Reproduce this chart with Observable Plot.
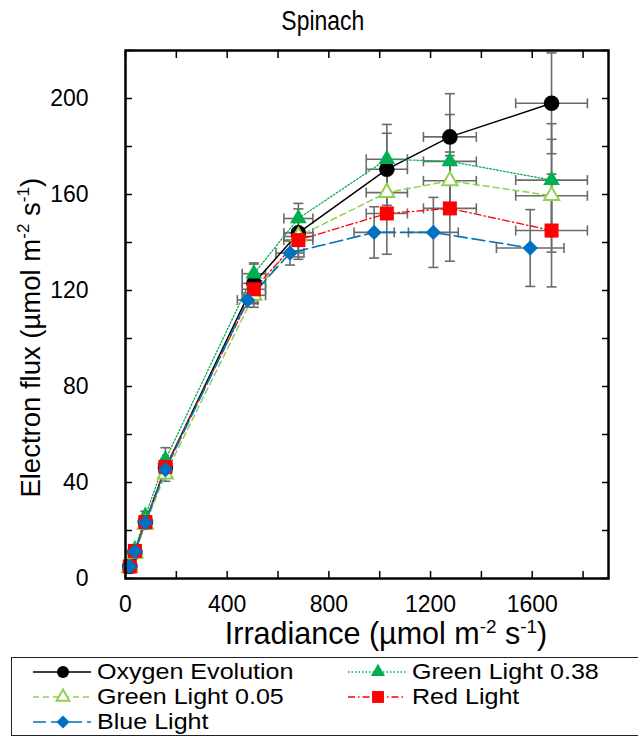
<!DOCTYPE html>
<html><head><meta charset="utf-8">
<script src="https://cdn.jsdelivr.net/npm/d3@7"></script>
<script src="https://cdn.jsdelivr.net/npm/@observablehq/plot@0.6"></script>
<style>
body{margin:0;background:#fff;font-family:"Liberation Sans",Arial,Helvetica,sans-serif;}
#wrap{position:relative;width:638px;height:740px;overflow:hidden;}
.abs{position:absolute;white-space:nowrap;color:#000;}
sup{font-size:0.62em;vertical-align:baseline;position:relative;top:-0.62em;line-height:0;}
#wrap svg.chart{position:absolute;left:0;top:0;}
</style></head>
<body><div id="wrap"></div>
<script>
// ---- data ----
const irradiance     = [17, 37, 78, 157, 505, 680, 1028, 1276, 1676];
const irradianceErr  = [3, 5, 8, 10, 46, 57, 81, 104, 141];
const irradianceBlue = [17, 37, 78, 157, 480, 647, 978, 1211, 1592];
const irradianceBlueErr = [3, 5, 8, 10, 40, 55, 79, 98, 133];

const oxygen     = [5, 11, 23.5, 46, 123, 144, 170.5, 184, 198];
const oxygenErr  = [1, 1.5, 2, 4, 8, 10, 15, 18, 21];
const green38    = [5.5, 12, 26, 49.5, 127, 150, 174.7, 173.8, 166];
const green38Err = [1, 1.5, 2, 5, 4.5, 6.3, 14.5, 19.5, 23.5];
const green05    = [4.5, 10.5, 22.5, 43.5, 118, 142.5, 160.8, 165.7, 159.5];
const green05Err = [1, 1.5, 2, 3, 5, 6, 10, 12, 23.5];
const red        = [5, 11.5, 23.5, 46.5, 120.5, 141, 152.1, 154.2, 145];
const redErr     = [1, 1.5, 2, 3, 6, 8, 17, 22, 23.5];
const blue       = [5, 11.3, 23.3, 45.3, 116, 135.6, 144.2, 144.2, 137.7];
const blueErr    = [1, 1.5, 2, 3, 3, 5, 10.7, 14.6, 16];

const seriesNames = ["Oxygen Evolution", "Green Light 0.38", "Green Light 0.05", "Red Light", "Blue Light"];
const xTicksMinor = [0, 200, 400, 600, 800, 1000, 1200, 1400, 1600, 1800];
const xTickLabels = [0, 400, 800, 1200, 1600];
const yTicksMinor = [0, 20, 40, 60, 80, 100, 120, 140, 160, 180, 200, 220];
const yTickLabels = [0, 40, 80, 120, 160, 200];

// ---- styles ----
const styles = {
  "Oxygen Evolution": {color: "#000000", dash: null, width: 1.5, symbol: "circle", r: 7.8, fill: "#000000", stroke: "#000000", sw: 0},
  "Green Light 0.38": {color: "#00b050", dash: "1.5,2", width: 1.3, symbol: "triangle", r: 6.2, fill: "#00b050", stroke: "#00b050", sw: 0},
  "Green Light 0.05": {color: "#92d050", dash: "6,4", width: 1.5, symbol: "triangle", r: 5.6, fill: "#ffffff", stroke: "#92d050", sw: 2},
  "Red Light":        {color: "#ff0000", dash: "7,3,1.5,3", width: 1.3, symbol: "square", r: 7.9, fill: "#ff0000", stroke: "#ff0000", sw: 0},
  "Blue Light":       {color: "#0070c0", dash: "13,5", width: 1.6, symbol: "diamond2", r: 6.9, fill: "#0070c0", stroke: "#0070c0", sw: 0}
};

const defs = [
  {name: seriesNames[0], x: irradiance, ex: irradianceErr, y: oxygen, ey: oxygenErr},
  {name: seriesNames[1], x: irradiance, ex: irradianceErr, y: green38, ey: green38Err},
  {name: seriesNames[2], x: irradiance, ex: irradianceErr, y: green05, ey: green05Err},
  {name: seriesNames[3], x: irradiance, ex: irradianceErr, y: red, ey: redErr},
  {name: seriesNames[4], x: irradianceBlue, ex: irradianceBlueErr, y: blue, ey: blueErr}
];
const rows = [];
defs.forEach(s => s.y.forEach((v, i) => rows.push({series: s.name, x: s.x[i], ex: s.ex[i], y: v, ey: s.ey[i]})));

const capH = {draw(ctx) { ctx.moveTo(-5, 0); ctx.lineTo(5, 0); }};
const capV = {draw(ctx) { ctx.moveTo(0, -5); ctx.lineTo(0, 5); }};
const errColor = "#6b6b6b";

const marks = [];
// error bars
marks.push(Plot.link(rows, {x1: "x", x2: "x", y1: d => d.y - d.ey, y2: d => d.y + d.ey, stroke: errColor, strokeWidth: 1.6}));
marks.push(Plot.link(rows, {x1: d => d.x - d.ex, x2: d => d.x + d.ex, y1: "y", y2: "y", stroke: errColor, strokeWidth: 1.6}));
marks.push(Plot.dot(rows, {x: "x", y: d => d.y - d.ey, symbol: capH, r: 5, fill: "none", stroke: errColor, strokeWidth: 1.6}));
marks.push(Plot.dot(rows, {x: "x", y: d => d.y + d.ey, symbol: capH, r: 5, fill: "none", stroke: errColor, strokeWidth: 1.6}));
marks.push(Plot.dot(rows, {x: d => d.x - d.ex, y: "y", symbol: capV, r: 5, fill: "none", stroke: errColor, strokeWidth: 1.6}));
marks.push(Plot.dot(rows, {x: d => d.x + d.ex, y: "y", symbol: capV, r: 5, fill: "none", stroke: errColor, strokeWidth: 1.6}));
// lines
seriesNames.forEach(n => {
  const st = styles[n];
  marks.push(Plot.line(rows.filter(d => d.series === n), {x: "x", y: "y", stroke: st.color, strokeWidth: st.width, strokeDasharray: st.dash}));
});
// markers
seriesNames.forEach(n => {
  const st = styles[n];
  marks.push(Plot.dot(rows.filter(d => d.series === n), {x: "x", y: "y", symbol: st.symbol, r: st.r, fill: st.fill, stroke: st.sw ? st.stroke : "none", strokeWidth: st.sw}));
});
// axes: inward ticks on all sides, labels on left/bottom
const plain = d => String(d);
marks.push(Plot.axisX({ticks: xTicksMinor, anchor: "bottom", tickSize: -7, tickFormat: () => "", strokeWidth: 1.5, label: null}));
marks.push(Plot.axisX({ticks: xTicksMinor, anchor: "top", tickSize: -7, tickFormat: () => "", strokeWidth: 1.5, label: null}));
marks.push(Plot.axisX({ticks: xTickLabels, anchor: "bottom", tickSize: 0, tickPadding: 17, fontSize: 23, tickFormat: plain, label: null}));
marks.push(Plot.axisY({ticks: yTicksMinor, anchor: "left", tickSize: -7, tickFormat: () => "", strokeWidth: 1.5, label: null}));
marks.push(Plot.axisY({ticks: yTicksMinor, anchor: "right", tickSize: -7, tickFormat: () => "", strokeWidth: 1.5, label: null}));
marks.push(Plot.axisY({ticks: yTickLabels, anchor: "left", tickSize: 0, tickPadding: 37, fontSize: 23, tickFormat: plain, label: null}));
marks.push(Plot.frame({stroke: "#000", strokeWidth: 2.5}));

const chart = Plot.plot({
  width: 638, height: 655,
  marginLeft: 125, marginRight: 30, marginTop: 50, marginBottom: 77,
  x: {domain: [0, 1900]},
  y: {domain: [0, 220]},
  style: {fontFamily: "'Liberation Sans', Arial, Helvetica, sans-serif", color: "#000", background: "transparent", overflow: "visible"},
  marks
});
chart.classList.add("chart");
const wrap = document.getElementById("wrap");
wrap.appendChild(chart);

// ---- text elements ----
function baselineTop(baseline, fs, lhRatio) {
  return baseline - ((lhRatio - 1.117) / 2 + 0.905) * fs;
}
function addText(html, fs, baseline, cx, lhRatio = 1, scaleX = 1) {
  const d = document.createElement("div");
  d.className = "abs";
  const W = 500;
  d.style.fontSize = fs + "px";
  d.style.lineHeight = (fs * lhRatio) + "px";
  d.style.width = W + "px";
  d.style.textAlign = "center";
  d.style.left = (cx - W / 2) + "px";
  d.style.top = baselineTop(baseline, fs, lhRatio) + "px";
  const s = document.createElement("span");
  s.style.display = "inline-block";
  s.innerHTML = html;
  if (scaleX !== 1) s.style.transform = `scaleX(${scaleX})`;
  d.appendChild(s);
  wrap.appendChild(d);
  return d;
}
addText("Spinach", 27, 30.5, 323, 1, 0.85);
addText("Irradiance (µmol m<sup>-2</sup> s<sup>-1</sup>)", 30.5, 645, 386, 0.85);
// rotated y label
(function () {
  const fs = 27.5, W = 500, cx = 31, cy = 338;
  const d = document.createElement("div");
  d.className = "abs";
  d.innerHTML = "Electron flux (µmol m<sup>-2</sup> s<sup>-1</sup>)";
  d.style.fontSize = fs + "px";
  d.style.lineHeight = fs + "px";
  d.style.width = W + "px";
  d.style.height = fs + "px";
  d.style.textAlign = "center";
  d.style.left = (cx - W / 2) + "px";
  d.style.top = (cy - fs / 2) + "px";
  d.style.transform = "rotate(-90deg)";
  wrap.appendChild(d);
})();

// ---- legend ----
const legend = document.createElement("div");
legend.className = "abs";
Object.assign(legend.style, {left: "11px", top: "657px", width: "640px", height: "79px", border: "1.5px solid #222", boxSizing: "border-box"});
wrap.appendChild(legend);
const legendPos = [
  {n: seriesNames[0], x0: 33, row: 0},
  {n: seriesNames[1], x0: 348, row: 0},
  {n: seriesNames[2], x0: 33, row: 1},
  {n: seriesNames[3], x0: 348, row: 1},
  {n: seriesNames[4], x0: 33, row: 2}
];
const ns = "http://www.w3.org/2000/svg";
legendPos.forEach(p => {
  const st = styles[p.n];
  const cy = 671.5 + p.row * 25;
  const svg = document.createElementNS(ns, "svg");
  svg.setAttribute("width", 60); svg.setAttribute("height", 20);
  svg.style.position = "absolute";
  svg.style.left = p.x0 + "px";
  svg.style.top = (cy - 10) + "px";
  const ln = document.createElementNS(ns, "line");
  ln.setAttribute("x1", 0); ln.setAttribute("x2", 58); ln.setAttribute("y1", 10); ln.setAttribute("y2", 10);
  ln.setAttribute("stroke", st.color); ln.setAttribute("stroke-width", st.width);
  if (st.dash) ln.setAttribute("stroke-dasharray", st.dash);
  svg.appendChild(ln);
  const sym = {circle: d3.symbolCircle, triangle: d3.symbolTriangle, square: d3.symbolSquare, diamond2: d3.symbolDiamond2}[st.symbol];
  const path = document.createElementNS(ns, "path");
  const size = st.symbol === "circle" ? Math.PI * 6 * 6 : Math.PI * st.r * st.r * 0.72;
  path.setAttribute("d", d3.symbol(sym, size)());
  path.setAttribute("transform", "translate(30,10)");
  path.setAttribute("fill", st.fill);
  if (st.sw) { path.setAttribute("stroke", st.stroke); path.setAttribute("stroke-width", st.sw); }
  svg.appendChild(path);
  wrap.appendChild(svg);
  const t = document.createElement("div");
  t.className = "abs";
  const fs = 22.2;
  t.style.fontSize = fs + "px";
  t.style.lineHeight = (fs * 0.9) + "px";
  t.style.left = (p.x0 + 64) + "px";
  t.style.top = baselineTop(cy + 8, fs, 0.9) + "px";
  const s = document.createElement("span");
  s.style.display = "inline-block";
  s.style.transformOrigin = "left center";
  s.style.transform = "scaleX(1.13)";
  s.textContent = p.n;
  t.appendChild(s);
  wrap.appendChild(t);
});
</script>
</body></html>
